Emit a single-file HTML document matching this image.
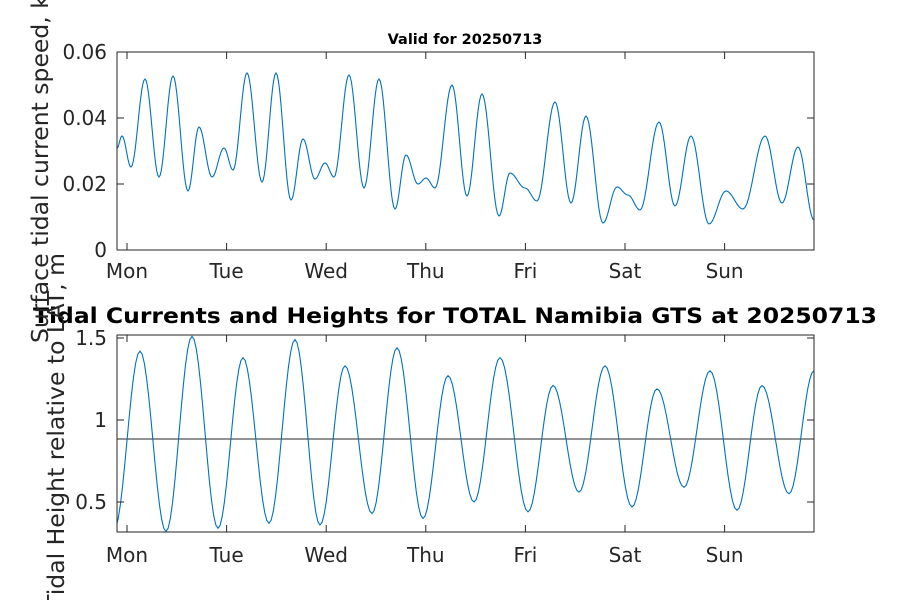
<!DOCTYPE html>
<html><head><meta charset="utf-8"><style>
html,body{margin:0;padding:0;background:#fff;}
svg{display:block;font-family:"DejaVu Sans","Liberation Sans",sans-serif;}
</style></head><body>
<svg id="s" width="900" height="600" viewBox="0 0 900 600" xmlns="http://www.w3.org/2000/svg">
<rect width="900" height="600" fill="#fff"/>
<defs>
<clipPath id="c1"><rect x="117" y="52" width="697" height="198"/></clipPath>
<clipPath id="c2"><rect x="117" y="335" width="697" height="197"/></clipPath>
</defs>
<path id="p1" clip-path="url(#c1)" fill="none" stroke="#0072BD" stroke-width="1.1"/>
<line x1="117" x2="814" y1="439" y2="439" stroke="#262626" stroke-width="1"/>
<path id="p2" clip-path="url(#c2)" fill="none" stroke="#0072BD" stroke-width="1.1"/>
<g fill="none" stroke="#262626" stroke-width="1">
<rect x="117" y="52" width="697" height="198"/>
<rect x="117" y="335" width="697" height="197"/>
</g>
<g id="ticks" stroke="#262626" stroke-width="1"></g>
<g fill="#262626" font-size="20">
<text x="107" y="257" text-anchor="end">0</text>
<text x="107" y="191" text-anchor="end">0.02</text>
<text x="107" y="125" text-anchor="end">0.04</text>
<text x="107" y="59" text-anchor="end">0.06</text>
<text x="107" y="509" text-anchor="end">0.5</text>
<text x="107" y="427" text-anchor="end">1</text>
<text x="107" y="345" text-anchor="end">1.5</text>
</g>
<g id="xl" fill="#262626" font-size="20" text-anchor="middle"></g>
<text x="465" y="44" font-size="14.5" font-weight="bold" text-anchor="middle" fill="#000">Valid for 20250713</text>
<text x="33" y="323" font-size="21" font-weight="bold" fill="#000" textLength="844" lengthAdjust="spacingAndGlyphs">Tidal Currents and Heights for TOTAL Namibia GTS at 20250713</text>
<text transform="translate(48,343) rotate(-90)" font-size="23.5" fill="#262626">Surface tidal current speed, knots</text>
<text transform="translate(64,253) rotate(-90)" font-size="23.5" text-anchor="end" fill="#262626">Tidal Height relative to LAT, m</text>
</svg>
<script>
function build(pts){var d="M"+pts[0][0]+","+pts[0][1];
for(var i=0;i<pts.length-1;i++){var a=pts[i],b=pts[i+1];for(var k=1;k<=12;k++){var t=k/12,f=(1-Math.cos(Math.PI*t))/2;
d+=" L"+(a[0]+(b[0]-a[0])*t).toFixed(2)+","+(a[1]+(b[1]-a[1])*f).toFixed(2);}}return d;}
var p1=[[117,148],[122,136],[131,167],[145,79],[159,177],[173,76],[188,191],[199,127],[212,177],[224,148],[233,170],[247,73],[262,182],[276,73],[291,200],[303,139],[315,179],[325,163],[334,177],[349,75],[364,188],[379,79],[395,209],[406,155],[418,184],[426,178],[435,188],[452,85],[467,196],[482,94],[499,216],[510,173],[525,188],[537,201],[555,102],[571,203],[586,116],[603,223],[617,187],[628,195],[640,210],[659,122],[675,206],[691,136],[709,224],[726,191],[743,209],[765,136],[782,203],[798,147],[814,220]];
document.getElementById("p1").setAttribute("d",build(p1));
var hx=[114,140,166,192,218,243,269,295,320,345,372,397,423,448,474,500,528,553,579,605,632,657,684,710,737,762,789,814];
var hv=[0.33,1.42,0.32,1.51,0.34,1.38,0.37,1.49,0.36,1.33,0.43,1.44,0.40,1.27,0.50,1.38,0.44,1.21,0.56,1.33,0.47,1.19,0.59,1.30,0.45,1.21,0.55,1.30];
var p2=hx.map(function(x,i){return [x,420-(hv[i]-1)*164];});
document.getElementById("p2").setAttribute("d",build(p2));
var days=["Mon","Tue","Wed","Thu","Fri","Sat","Sun"],tk="",xl="";
for(var i=0;i<7;i++){var x=127+i*99.6;
tk+='<line x1="'+x+'" x2="'+x+'" y1="250" y2="243"/><line x1="'+x+'" x2="'+x+'" y1="52" y2="59"/>';
tk+='<line x1="'+x+'" x2="'+x+'" y1="532" y2="525"/><line x1="'+x+'" x2="'+x+'" y1="335" y2="342"/>';
xl+='<text x="'+x+'" y="278">'+days[i]+'</text><text x="'+x+'" y="562">'+days[i]+'</text>';}
[250,184,118,52].forEach(function(y){tk+='<line x1="117" x2="124" y1="'+y+'" y2="'+y+'"/><line x1="814" x2="807" y1="'+y+'" y2="'+y+'"/>';});
[502,420,338].forEach(function(y){tk+='<line x1="117" x2="124" y1="'+y+'" y2="'+y+'"/><line x1="814" x2="807" y1="'+y+'" y2="'+y+'"/>';});
document.getElementById("ticks").innerHTML=tk;document.getElementById("xl").innerHTML=xl;
</script>
</body></html>
